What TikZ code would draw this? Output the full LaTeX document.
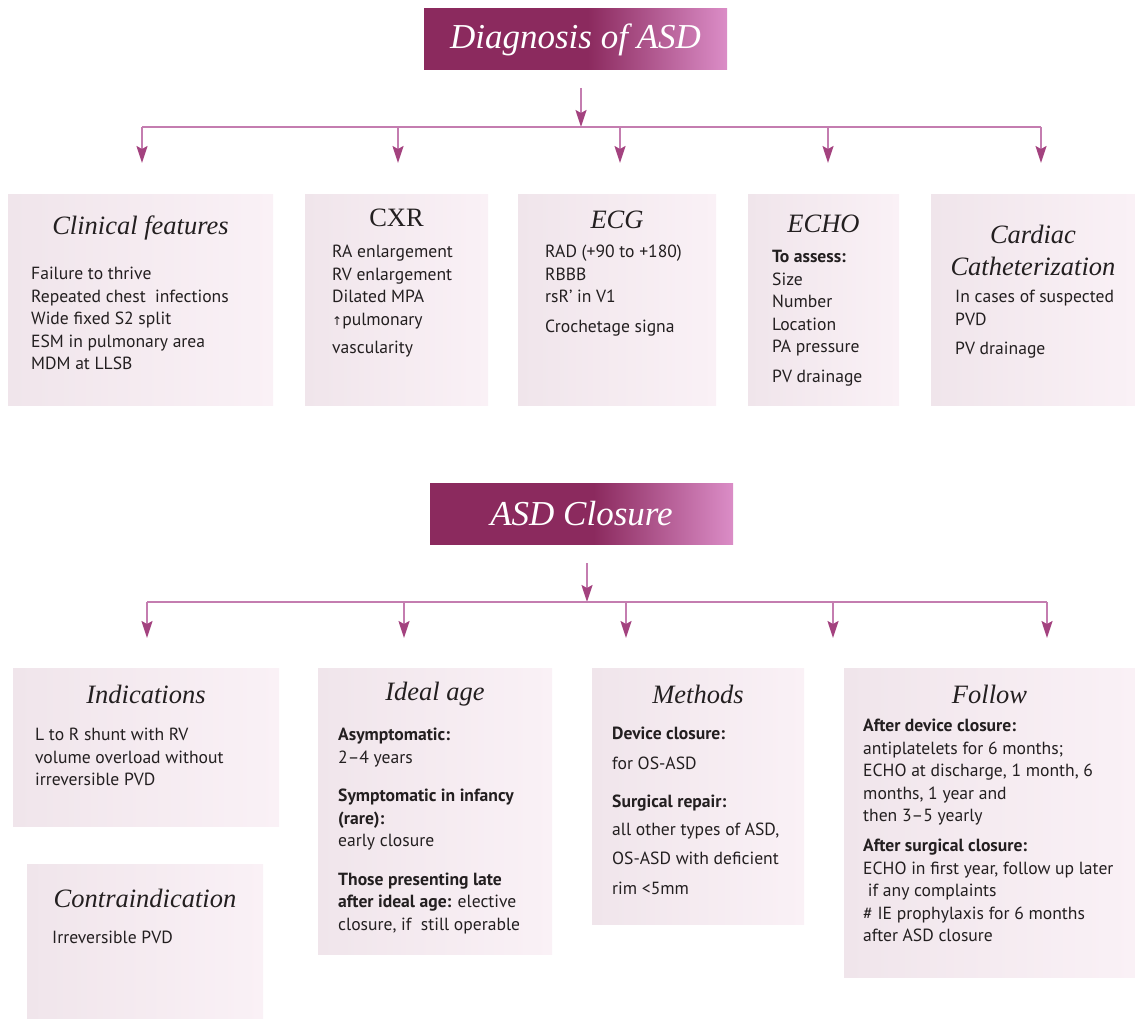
\documentclass[tikz,border=0pt]{standalone}
\usepackage{fontspec}
\setmainfont{PT Sans}
\newfontfamily\ttlfont{Liberation Serif}
\newfontfamily\symfont{DejaVu Sans}
\usetikzlibrary{positioning,arrows.meta}

\definecolor{hdrdark}{HTML}{8B2A5E}
\definecolor{hdrlight}{HTML}{DB8DC7}
\definecolor{linkpink}{HTML}{C47DB0}
\definecolor{tippink}{HTML}{A3427F}
\definecolor{boxleft}{HTML}{F0E5EB}
\definecolor{boxright}{HTML}{FAF1F6}
\definecolor{ink}{HTML}{231F20}
\pgfdeclarehorizontalshading{hdrshade}{100bp}{color(0bp)=(hdrdark); color(25bp)=(hdrdark);
  color(52bp)=(hdrdark); color(75bp)=(hdrlight); color(100bp)=(hdrlight)}

\begin{document}
\begin{tikzpicture}[x=1pt, y=-1pt,
  hdr/.style={shading=hdrshade, minimum width=303pt, minimum height=61pt, inner sep=0pt,
              text=white, font=\ttlfont\itshape\fontsize{35}{35}\selectfont},
  box/.style 2 args={left color=boxleft, right color=boxright, anchor=north west,
              inner sep=0pt, minimum width=#1pt, minimum height=#2pt},
  ttl/.style={font=\ttlfont\itshape\fontsize{26.5}{32}\selectfont, text=ink, align=center, inner sep=0pt},
  txt/.style={font=\fontsize{17.6}{22.5}\selectfont, text=ink, align=left, anchor=north west, inner sep=0pt},
  link/.style={draw=linkpink, line width=1.8pt},
  arr/.style={link, -{Stealth[length=17pt, width=11pt, inset=3pt, color=tippink]}}]
\useasboundingbox (0,0) rectangle (1135,1019);

% diagnosis
\node[hdr] (diag) at (575.5,39.5) {Diagnosis of ASD};
\coordinate (diag-out) at (581,88);
\coordinate (diag-bar) at (581,127);
\draw[arr] (diag-out) -- (diag-bar);
\foreach \n/\x in {clin/142, cxr/398, ecg/620, echo/828, cath/1041} {
  \coordinate (\n-in) at (\x,127);
  \coordinate (\n-tip) at (\x,163);
}
\draw[link] (clin-in) -- (cath-in);
\foreach \n in {clin, cxr, ecg, echo, cath} \draw[arr] (\n-in) -- (\n-tip);

\node[box={265}{211}] (clin) at (8,194) {};
\node[ttl] (clin-t) at (140.5,228) {Clinical features};
\node[txt] (clin-b) at (31,267) {Failure to thrive\\Repeated chest\ \ infections\\Wide fixed S2 split\\
  ESM in pulmonary area\\MDM at LLSB};

\node[box={183}{211}] (cxr) at (305,194) {};
\node[ttl, font=\ttlfont\fontsize{26.5}{32}\selectfont] (cxr-t) at (396.5,218) {CXR};
\node[txt] (cxr-b) at (332,245) {RA enlargement\\RV enlargement\\Dilated MPA\\
  {\symfont\fontsize{12}{12}\selectfont ↑}pulmonary\\[6pt]vascularity};

\node[box={198}{211}] (ecg) at (518,194) {};
\node[ttl] (ecg-t) at (617,220) {ECG};
\node[txt] (ecg-b) at (545,245) {RAD (+90 to +180)\\RBBB\\rsR’ in V1\\[7pt]Crochetage signa};

\node[box={151}{211}] (echo) at (748,194) {};
\node[ttl] (echo-t) at (823.5,224) {ECHO};
\node[txt] (echo-b) at (772,250) {\textbf{To assess:}\\Size\\Number\\Location\\PA pressure\\[7pt]PV drainage};

\node[box={204}{211}] (cath) at (931,194) {};
\node[ttl] (cath-t) at (1033,250) {Cardiac\\Catheterization};
\node[txt] (cath-b) at (955,290) {In cases of suspected\\PVD\\[7pt]PV drainage};

% closure
\node[hdr] (clos) at (581.5,514) {ASD Closure};
\coordinate (clos-out) at (587,563);
\coordinate (clos-bar) at (587,602);
\draw[arr] (clos-out) -- (clos-bar);
\foreach \n/\x in {ind/147, age/404, meth/626, mid/833, foll/1047} {
  \coordinate (\n-in) at (\x,602);
  \coordinate (\n-tip) at (\x,638);
}
\draw[link] (ind-in) -- (foll-in);
\foreach \n in {ind, age, meth, mid, foll} \draw[arr] (\n-in) -- (\n-tip);

\node[box={266}{158}] (ind) at (13,668) {};
\node[ttl] (ind-t) at (146,694) {Indications};
\node[txt] (ind-b) at (35,728) {L to R shunt with RV\\volume overload without\\irreversible PVD};

\node[box={236}{155}] (contra) at (27,864) {};
\node[ttl] (contra-t) at (145,898) {Contraindication};
\node[txt] (contra-b) at (52,931) {Irreversible PVD};

\node[box={234}{286}] (age) at (318,668) {};
\node[ttl] (age-t) at (435,694) {Ideal age};
\node[txt] (age-b) at (338,728) {\textbf{Asymptomatic:}\\2–4 years\\[16pt]
  \textbf{Symptomatic in infancy}\\\textbf{(rare):}\\early closure\\[16pt]
  \textbf{Those presenting late}\\\textbf{after ideal age:} elective\\closure, if\ \ still operable};

\node[box={212}{256}] (meth) at (592,668) {};
\node[ttl] (meth-t) at (698,694) {Methods};
\node[txt] (meth-b) at (612,727) {\textbf{Device closure:}\\[7.5pt]for OS-ASD\\[15.5pt]
  \textbf{Surgical repair:}\\[5.5pt]all other types of ASD,\\[6.5pt]OS-ASD with deficient\\[7.5pt]rim <5mm};

\node[box={291}{309}] (foll) at (844,668) {};
\node[ttl] (foll-t) at (989.5,694) {Follow};
\node[txt] (foll-b) at (863,719) {\textbf{After device closure:}\\antiplatelets for 6 months;\\
  ECHO at discharge, 1 month, 6\\months, 1 year and\\then 3–5 yearly\\[7.5pt]
  \textbf{After surgical closure:}\\ECHO in first year, follow up later\\\ if any complaints\\
  \# IE prophylaxis for 6 months\\after ASD closure};
\end{tikzpicture}
\end{document}
